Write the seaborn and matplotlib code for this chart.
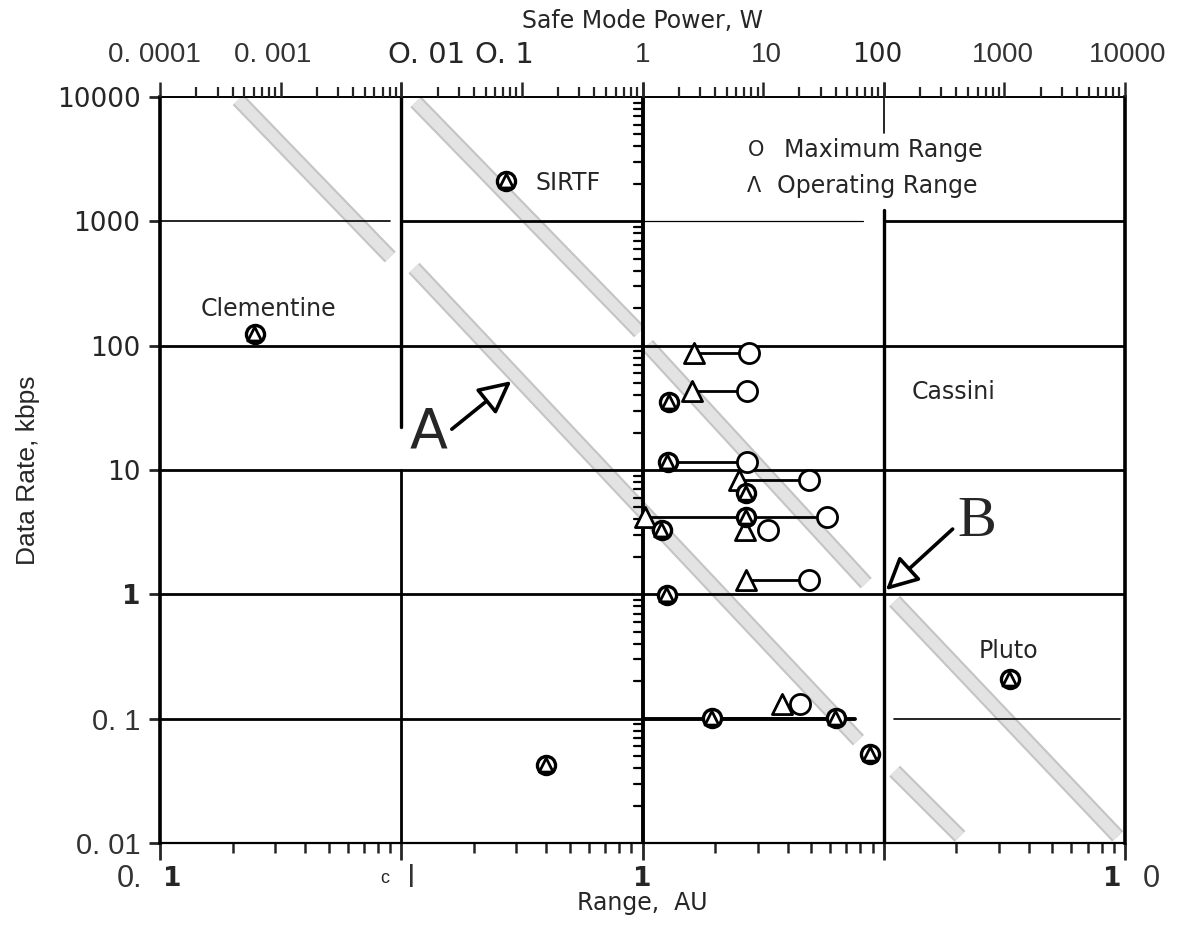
import numpy as np
import matplotlib
import matplotlib.pyplot as plt  # type: ignore
import matplotlib.transforms as mtransforms
import seaborn as sns  # type: ignore

# Set the backend to Agg to avoid GUI-related warnings
plt.switch_backend("agg")

# missions where operating range and maximum range coincide (AU, kbps)
both_au = [0.0247, 0.273, 0.399, 1.29, 1.27, 2.69, 2.69, 1.20, 1.26, 1.94, 6.32, 8.8, 33.3]
both_kbps = [124, 2110, 0.0423, 35.2, 11.6, 6.5, 4.18, 3.29, 0.99, 0.101, 0.101, 0.0518, 0.208]

# operating range points (triangles)
op_au = [1.63, 1.61, 2.52, 1.02, 2.65, 2.69, 3.79]
op_kbps = [87.1, 43.2, 8.3, 4.18, 3.29, 1.30, 0.131]

# maximum range points (circles)
max_au = [2.76, 2.71, 2.71, 4.92, 5.82, 3.30, 4.92, 4.49]
max_kbps = [87.1, 43.2, 11.6, 8.3, 4.18, 3.29, 1.30, 0.131]

# lines joining operating range to maximum range
link_from = [1.63, 1.61, 1.27, 2.52, 1.02, 2.69, 1.94]
link_to = [2.76, 2.71, 2.71, 4.92, 5.82, 4.92, 6.32]
link_kbps = [87.1, 43.2, 11.6, 8.3, 4.18, 1.30, 0.101]

# shaded constant-power bands (start/end range AU, start/end rate kbps)
band_au = [(0.0211, 0.090), (0.115, 0.972), (1.047, 8.45), (0.113, 7.85), (11.1, 93.3), (11.1, 20.7)]
band_kbps = [(9500, 516), (9120, 129), (101, 1.23), (421, 0.0671), (0.88, 0.0113), (0.0378, 0.0113)]

# axis labels
rate_ticks = [0.01, 0.1, 1, 10, 100, 1000, 10000]
rate_labels = ["0. 01", "0. 1", "1", "10", "100", "1000", "10000"]
power_labels = ["0. 0001", "0. 001", "O. 01", "O. 1", "1", "10", "100", "1000", "10000"]
power_label_au = [0.0095, 0.0293, 0.128, 0.268, 1.0, 3.27, 9.37, 31.2, 103]
range_labels = ["0.", "1", "c", "l", "1", "1", "0"]
range_label_au = [0.0075, 0.0112, 0.0858, 0.110, 1.0, 88.9, 128]

sns.set_theme(style="white")
plt.rcParams["font.family"] = ["DejaVu Sans"]
narrow = ["Liberation Sans Narrow", "Liberation Sans", "DejaVu Sans"]

fig = plt.figure(figsize=(11.82, 9.26), dpi=100)
ax = fig.add_axes([160 / 1182, 83 / 926, 965 / 1182, 746 / 926])
ax.set_xscale("log")
ax.set_yscale("log")

# bands
for bx, by in zip(band_au, band_kbps):
    ax.plot(bx, by, color="#c4c4c4", lw=11, solid_capstyle="butt", zorder=1)
    ax.plot(bx, by, color="#e3e3e3", lw=8, solid_capstyle="butt", zorder=1)

# horizontal panel lines
hsegs = [
    (1000, 0.01, 0.09, 1.2), (1000, 0.1, 1, 2.0), (1000, 1, 8.2, 0.9), (1000, 10, 100, 2.0),
    (100, 0.01, 100, 2.0), (10, 0.01, 100, 2.0), (1, 0.01, 100, 2.0),
    (0.1, 0.01, 1, 2.0), (0.1, 1, 7.6, 2.8), (0.1, 11, 95, 1.2),
]
for yv, x0, x1, lw in hsegs:
    ax.plot([x0, x1], [yv, yv], color="black", lw=lw, zorder=2)

# vertical panel lines
vsegs = [(0.1, 22, 10000, 2.4), (0.1, 0.01, 10, 2.0), (1, 0.01, 10000, 2.8),
         (10, 0.01, 1230, 2.4), (10, 5130, 10000, 1.2)]
for xv, y0, y1, lw in vsegs:
    ax.plot([xv, xv], [y0, y1], color="black", lw=lw, zorder=2)

# minor rate ticks along the 1 AU line
for k in range(-2, 4):
    for m in range(2, 10):
        ax.plot([10 ** -0.035, 1], [m * 10.0 ** k] * 2, color="black", lw=1.6, zorder=2)

# links between operating and maximum range
for a, b, r in zip(link_from, link_to, link_kbps):
    ax.plot([a, b], [r, r], color="black", lw=2.0, zorder=3)

sns.scatterplot(x=max_au, y=max_kbps, marker="o", s=210, facecolor="white",
                edgecolor="black", linewidth=2.0, ax=ax, zorder=5)
sns.scatterplot(x=op_au, y=op_kbps, marker="^", s=210, facecolor="white",
                edgecolor="black", linewidth=2.0, ax=ax, zorder=5)
sns.scatterplot(x=both_au, y=both_kbps, marker="o", s=170, facecolor="white",
                edgecolor="black", linewidth=2.4, ax=ax, zorder=6)
sns.scatterplot(x=both_au, y=both_kbps, marker="^", s=100, facecolor="none",
                edgecolor="black", linewidth=2.0, ax=ax, zorder=7)

ax.set_xlim(0.01, 100)
ax.set_ylim(0.01, 10000)
ax.set_xlabel("")
ax.set_ylabel("")

# spines and ticks
for side, lw in [("left", 2.6), ("right", 2.6), ("top", 1.4), ("bottom", 1.6)]:
    ax.spines[side].set_linewidth(lw)
    ax.spines[side].set_color("black")
ax.xaxis.set_major_locator(matplotlib.ticker.LogLocator(base=10, numticks=10))
ax.xaxis.set_minor_locator(matplotlib.ticker.LogLocator(base=10, subs=np.arange(2, 10), numticks=10))
ax.xaxis.set_minor_formatter(matplotlib.ticker.NullFormatter())
ax.tick_params(axis="x", which="major", direction="out", length=12, width=2,
               bottom=True, top=False, labelbottom=False)
ax.tick_params(axis="x", which="minor", direction="out", length=7, width=1.8,
               bottom=True, top=False, labelbottom=False)
ax.yaxis.set_major_locator(matplotlib.ticker.FixedLocator(rate_ticks))
ax.yaxis.set_minor_locator(matplotlib.ticker.NullLocator())
ax.yaxis.set_major_formatter(matplotlib.ticker.FixedFormatter(rate_labels))
ax.tick_params(axis="y", which="major", direction="out", length=8, width=2,
               left=True, right=False, pad=6, labelsize=19, labelleft=True)

# top axis: safe mode power, two decades per range decade panel
top = ax.twiny()
top.set_xscale("log")
top.set_xlim(0.01, 100)
major_top, minor_top = [], []
for L in [-2, -1, 0, 1]:
    for j in range(3):
        major_top.append(10 ** (L + j / 2))
    for j in range(2):
        for m in range(2, 10):
            minor_top.append(10 ** (L + (j + np.log10(m)) / 2))
top.xaxis.set_major_locator(matplotlib.ticker.FixedLocator(major_top))
top.xaxis.set_minor_locator(matplotlib.ticker.FixedLocator(minor_top))
top.xaxis.set_major_formatter(matplotlib.ticker.NullFormatter())
top.xaxis.set_minor_formatter(matplotlib.ticker.NullFormatter())
top.tick_params(axis="x", which="major", direction="out", length=11, width=1.8,
                top=True, bottom=False, labeltop=False, labelbottom=False)
top.tick_params(axis="x", which="minor", direction="out", length=7, width=1.6,
                top=True, bottom=False, labeltop=False)
for s in top.spines.values():
    s.set_visible(False)

for lab in ax.get_yticklabels():
    if lab.get_text() == "1":
        lab.set_fontweight("bold")
    if lab.get_text().startswith("0."):
        lab.set_family(narrow)
        lab.set_fontsize(21)
        lab.set_color("#333333")

trans_top = mtransforms.blended_transform_factory(ax.transData, ax.transAxes)
for lab, xv in zip(power_labels, power_label_au):
    if lab.startswith("O."):
        kw = dict(fontsize=21, family="DejaVu Sans")
    elif lab == "100":
        kw = dict(fontsize=19, family="DejaVu Sans")
    else:
        kw = dict(fontsize=20, family=narrow, color="#333333")
    ax.text(xv, 1.056, lab, transform=trans_top, ha="center", va="center", **kw)

for lab, xv in zip(range_labels, range_label_au):
    if lab == "1":
        kw = dict(fontsize=19, fontweight="bold")
    elif lab == "c":
        kw = dict(fontsize=13, family=narrow)
    else:
        kw = dict(fontsize=22, family=narrow, color="#333333")
    ax.text(xv, -0.048, lab, transform=trans_top, ha="center", va="center", **kw)

ax.text(1.0, 1.102, "Safe Mode Power, W", transform=trans_top, ha="center",
        va="center", fontsize=17)
ax.text(1.0, -0.08, "Range,  AU", transform=trans_top, ha="center", va="center", fontsize=17)
fig.text(28 / 1182, 1 - 470 / 926, "Data Rate, kbps", rotation=90, ha="center", va="center",
         fontsize=19, family=narrow)

# labels inside the chart
ax.text(0.0282, 197, "Clementine", ha="center", va="center", fontsize=17)
ax.text(0.36, 2030, "SIRTF", ha="left", va="center", fontsize=17)
ax.text(19.5, 42.4, "Cassini", ha="center", va="center", fontsize=17)
ax.text(33.0, 0.349, "Pluto", ha="center", va="center", fontsize=17)
ax.text(2.95, 3750, "O", ha="center", va="center", fontsize=15)
ax.text(3.86, 3750, "Maximum Range", ha="left", va="center", fontsize=17)
ax.text(2.89, 1923, "\u039b", ha="center", va="center", fontsize=15)
ax.text(3.62, 1923, "Operating Range", ha="left", va="center", fontsize=17)

ax.text(0.130, 20.2, "A", ha="center", va="center", fontsize=40)
ax.text(24.4, 3.81, "B", ha="center", va="center", fontsize=42, family="Liberation Serif")
arrow = dict(arrowstyle="-|>,head_length=0.9,head_width=0.45", mutation_scale=22,
             lw=2.6, ec="black", fc="white", shrinkA=0, shrinkB=0)
ax.annotate("", xy=(0.286, 51.9), xytext=(0.162, 21.3), arrowprops=arrow, zorder=8)
ax.annotate("", xy=(10.2, 1.08), xytext=(19.3, 3.35), arrowprops=arrow, zorder=8)

plt.savefig("out.png", dpi=100)
plt.close()
